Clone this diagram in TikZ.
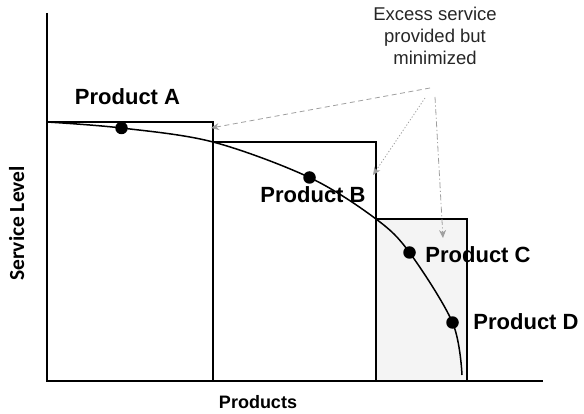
\documentclass[tikz,border=0pt]{standalone}
\usepackage{fontspec}
\setmainfont{Liberation Sans}
\newfontfamily\calib{Carlito}
\usetikzlibrary{arrows.meta}
\begin{document}
\begin{tikzpicture}[x=1pt,y=-1pt,
  axis/.style={line width=1.1pt,black},
  tier/.style={line width=1.8pt,black},
  dot/.style={circle,fill=black,inner sep=0pt,minimum size=12.5pt},
  prodlabel/.style={anchor=base,font=\bfseries\fontsize{22}{24}\selectfont,inner sep=0pt},
  note/.style={font=\fontsize{18.5}{22}\selectfont,align=center,text=black!85,inner sep=0pt},
  pointer/.style={line width=0.8pt,gray!75,-{Stealth[length=8pt,width=7pt]}}]
\useasboundingbox (0,0) rectangle (584,414);

% service tiers
\fill[gray!9] (376,219) rectangle (467,381);
\draw[tier] (47,122) -- (213,122) -- (213,381);
\draw[tier] (213,142) -- (376,142) -- (376,381);
\draw[tier] (376,219) -- (467,219) -- (467,381) -- (376,381);

% axes
\draw[axis] (47,381) -- (543,381);
\draw[tier] (47,13) -- (47,381) -- (467,381);

% demand curve
\draw[line width=1.5pt] plot[smooth,tension=0.55] coordinates
  {(47,122) (121.5,128) (213,142) (309.5,177.5) (376,219) (409.5,252.5) (452.5,322.5) (462,375)};

\node[dot] (da) at (121.5,128) {};
\node[dot] (db) at (309.5,177.5) {};
\node[dot] (dc) at (409.5,252.5) {};
\node[dot] (dd) at (452.5,322.5) {};

\node[prodlabel] (la) at (127.5,105) {Product A};
\node[prodlabel] (lb) at (313,203) {Product B};
\node[prodlabel] (lc) at (478,263) {Product C};
\node[prodlabel] (ld) at (526,330) {Product D};

% axis titles
\node[anchor=base,font=\bfseries\fontsize{18}{20}\selectfont,inner sep=0pt] (xt) at (258,408) {Products};
\node[rotate=90,anchor=base,font=\calib\bfseries\fontsize{21.5}{24}\selectfont,inner sep=0pt] (yt) at (24,223.5) {Service Level};

% excess-service note and its pointers
\node[note,anchor=north] (note) at (435,7) {Excess service\\provided but\\minimized};
\coordinate (p1) at (430,88);
\coordinate (p2) at (425,98);
\coordinate (p3) at (435,97);
\coordinate (t1) at (211,128);
\coordinate (t2) at (373,175);
\coordinate (t3) at (443,238);
\draw[pointer,dash pattern=on 5pt off 3.5pt] (p1) -- (t1);
\draw[pointer,dash pattern=on 1.2pt off 2pt] (p2) -- (t2);
\draw[pointer,dash pattern=on 6pt off 2.5pt on 1.2pt off 2.5pt] (p3) -- (t3);
\end{tikzpicture}
\end{document}
